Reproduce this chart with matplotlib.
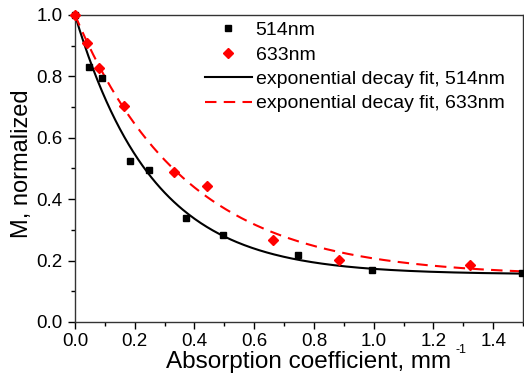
import numpy as np
import matplotlib
matplotlib.use("Agg")
import matplotlib.pyplot as plt
from matplotlib.ticker import MultipleLocator, FormatStrFormatter

plt.rcParams['font.family'] = ['Liberation Sans', 'DejaVu Sans']

# data
x_514 = [0.0, 0.047, 0.091, 0.185, 0.247, 0.372, 0.496, 0.746, 0.996, 1.495]
y_514 = [1.0, 0.831, 0.796, 0.523, 0.494, 0.339, 0.282, 0.218, 0.171, 0.158]
x_633 = [0.0, 0.039, 0.079, 0.164, 0.331, 0.442, 0.662, 0.883, 1.322]
y_633 = [1.0, 0.910, 0.827, 0.703, 0.489, 0.443, 0.266, 0.201, 0.187]

# exponential decay fit parameters: y = y0 + A*exp(-x/t)
fit_514 = dict(y0=0.155, A=0.845, t=0.26)
fit_633 = dict(y0=0.15, A=0.85, t=0.37)

labels = ["514nm", "633nm", "exponential decay fit, 514nm", "exponential decay fit, 633nm"]
xlabel_main = "Absorption coefficient, mm"
xlabel_sup = "-1"
ylabel = "M, normalized"

W, H = 524, 375
fig = plt.figure(figsize=(W/100, H/100), dpi=100)
ax = fig.add_axes([75/W, 1-322/H, 448/W, 307/H])

xf = np.linspace(0, 1.5, 300)
def model(x, p):
    return p['y0'] + p['A'] * np.exp(-x / p['t'])

ax.plot(x_514, y_514, 's', color='black', ms=4.5, label=labels[0], zorder=4, clip_on=False)
ax.plot(x_633, y_633, 'D', color='red', ms=5, label=labels[1], zorder=4, clip_on=False)
ax.plot(xf, model(xf, fit_514), '-', color='black', lw=1.5, label=labels[2], zorder=3)
ax.plot(xf, model(xf, fit_633), '--', color='red', lw=1.5, dashes=(5.5, 3.5), label=labels[3], zorder=3)

ax.set_xlim(0, 1.5)
ax.set_ylim(0, 1.0)
ax.xaxis.set_major_locator(MultipleLocator(0.2))
ax.xaxis.set_minor_locator(MultipleLocator(0.1))
ax.yaxis.set_major_locator(MultipleLocator(0.2))
ax.yaxis.set_minor_locator(MultipleLocator(0.1))
ax.xaxis.set_major_formatter(FormatStrFormatter('%.1f'))
ax.yaxis.set_major_formatter(FormatStrFormatter('%.1f'))
ax.tick_params(which='major', direction='out', length=5, width=1, labelsize=13.5)
ax.tick_params(axis='x', which='major', pad=3)
ax.tick_params(axis='y', which='major', pad=4)
ax.tick_params(which='minor', direction='out', length=3, width=1)
ax.tick_params(top=False, right=False)
for s in ax.spines.values():
    s.set_color('#333333')
    s.set_linewidth(1)

ax.set_xlabel(xlabel_main, fontsize=17.5)
ax.xaxis.set_label_coords((308.5-75)/448, (322-368)/307, transform=ax.transAxes)
ax.xaxis.label.set_va('baseline')
fig.text(455/W, 1-353/H, xlabel_sup, fontsize=9, ha='left', va='baseline')

ax.set_ylabel(ylabel, fontsize=17)
ax.yaxis.set_label_coords((33-75)/448, (322-164)/307, transform=ax.transAxes)

leg = ax.legend(loc='upper right', bbox_to_anchor=(0.989, 1.023), frameon=False, fontsize=14,
                handlelength=2.4, handletextpad=0.2, labelspacing=0.35, borderaxespad=0.3)

fig.savefig("out.png", dpi=100)
